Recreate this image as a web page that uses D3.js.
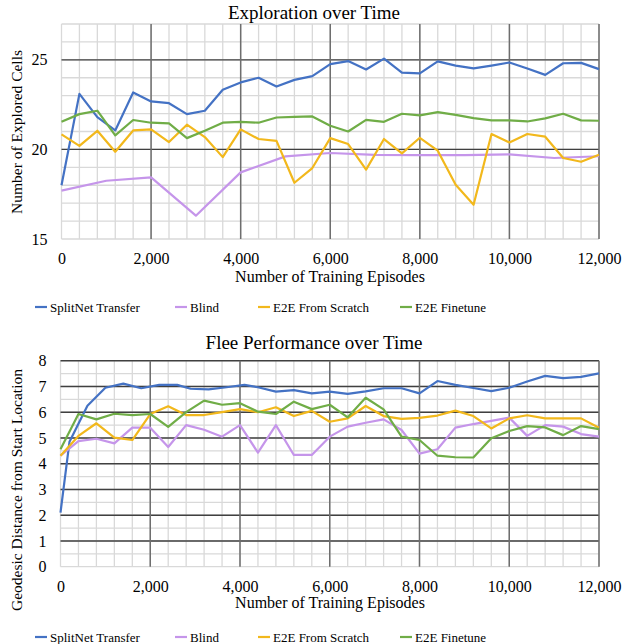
<!DOCTYPE html>
<html>
<head>
<meta charset="utf-8">
<script src="https://cdn.jsdelivr.net/npm/d3@7"></script>
<style>
  body { margin: 0; background: #fff; }
  svg text { font-family: "Liberation Serif", "Times New Roman", Tinos, "DejaVu Serif", serif !important; fill: #000; }
</style>
</head>
<body>
<svg id="chart" width="632" height="644"></svg>
<script>
// x values shared by most series (episodes)
const episodes = [0, 400, 800, 1200, 1600, 2000, 2400, 2800, 3200, 3600, 4000, 4400, 4800, 5200, 5600, 6000,
  6400, 6800, 7200, 7600, 8000, 8400, 8800, 9200, 9600, 10000, 10400, 10800, 11200, 11600, 12000]
const xTicks = [0, 2000, 4000, 6000, 8000, 10000, 12000]
const seriesNames = ['SplitNet Transfer', 'Blind', 'E2E From Scratch', 'E2E Finetune']
const colors = ['#4472C4', '#C595EA', '#F2B81C', '#70AD47']

// exploration chart
const splitExp = [18.0, 23.1, 21.8, 21.06, 23.18, 22.68, 22.58, 21.97, 22.16, 23.33, 23.74, 24.0, 23.51, 23.88, 24.09, 24.76,
  24.93, 24.46, 25.07, 24.29, 24.24, 24.91, 24.68, 24.52, 24.68, 24.85, 24.52, 24.16, 24.81, 24.83, 24.48]
const blindExpX = [0, 1000, 2000, 3000, 4000, 5000, 6000, 7000, 8000, 9000, 10000, 11000, 12000]
const blindExp = [17.70, 18.25, 18.44, 16.30, 18.72, 19.61, 19.80, 19.70, 19.68, 19.68, 19.72, 19.52, 19.62]
const scratchExp = [20.84, 20.2, 21.04, 19.87, 21.06, 21.12, 20.41, 21.38, 20.69, 19.57, 21.12, 20.58, 20.48, 18.14, 18.96, 20.63,
  20.3, 18.87, 20.58, 19.78, 20.65, 19.93, 18.03, 16.91, 20.86, 20.39, 20.86, 20.71, 19.52, 19.31, 19.7]
const finetuneExp = [21.54, 21.97, 22.16, 20.78, 21.64, 21.49, 21.45, 20.63, 21.04, 21.49, 21.54, 21.49, 21.78, 21.82, 21.84, 21.32,
  21.0, 21.65, 21.54, 21.99, 21.9, 22.08, 21.93, 21.75, 21.62, 21.62, 21.56, 21.73, 21.99, 21.62, 21.6]
const expYTicks = [15, 20, 25]

// flee chart
const splitFleeX = [0, 200, 600, 1000, 1400, 1800, 2200, 2600, 2900, 3300, 3700, 4100, 4400, 4800, 5200, 5600,
  6000, 6400, 6800, 7200, 7600, 8000, 8400, 8800, 9200, 9600, 10000, 10400, 10800, 11200, 11600, 12000]
const splitFlee = [2.10, 4.85, 6.25, 6.95, 7.11, 6.93, 7.06, 7.06, 6.91, 6.89, 6.97, 7.06, 6.97, 6.80, 6.86, 6.73,
  6.80, 6.71, 6.81, 6.93, 6.93, 6.73, 7.21, 7.06, 6.94, 6.82, 6.95, 7.19, 7.41, 7.32, 7.37, 7.51]
const blindFlee = [4.31, 4.88, 4.97, 4.79, 5.40, 5.40, 4.65, 5.50, 5.32, 5.05, 5.50, 4.43, 5.50, 4.34, 4.34, 5.05,
  5.44, 5.59, 5.72, 5.31, 4.39, 4.56, 5.40, 5.54, 5.66, 5.79, 5.08, 5.50, 5.44, 5.15, 5.05]
const scratchFlee = [4.31, 5.08, 5.57, 5.01, 4.92, 5.93, 6.23, 5.89, 5.89, 6.0, 6.12, 6.0, 6.19, 5.85, 6.05, 5.63,
  5.76, 6.24, 5.85, 5.74, 5.78, 5.87, 6.06, 5.85, 5.37, 5.76, 5.88, 5.76, 5.76, 5.76, 5.40]
const finetuneFlee = [4.56, 5.93, 5.72, 5.94, 5.89, 5.93, 5.43, 6.0, 6.45, 6.29, 6.35, 6.02, 5.93, 6.41, 6.12, 6.29,
  5.80, 6.56, 6.11, 5.05, 4.92, 4.31, 4.25, 4.24, 4.99, 5.27, 5.46, 5.41, 5.11, 5.46, 5.34]
const fleeYTicks = [0, 1, 2, 3, 4, 5, 6, 7, 8]

const zip = (xs, ys) => xs.map((x, i) => [x, ys[i]])
const serif = '"Liberation Serif", "Times New Roman", Tinos, "DejaVu Serif", serif'

const svg = d3.select('#chart')

function drawPanel(opt) {
  const g = svg.append('g').attr('font-family', serif)
  const x = d3.scaleLinear().domain([0, 12000]).range([opt.left, 599])
  const y = d3.scaleLinear().domain(opt.yDomain).range([opt.bottom, opt.top])

  // minor grid
  const minorX = d3.range(0, 12001, 400)
  const minorY = d3.range(opt.yDomain[0], opt.yDomain[1] + 0.001, opt.minorStep)
  g.append('g').selectAll('line').data(minorX).join('line')
    .attr('x1', d => x(d)).attr('x2', d => x(d))
    .attr('y1', opt.top).attr('y2', opt.bottom)
    .attr('stroke', '#d9d9d9').attr('stroke-width', 1.3)
  g.append('g').selectAll('line').data(minorY).join('line')
    .attr('x1', opt.left).attr('x2', 599)
    .attr('y1', d => y(d)).attr('y2', d => y(d))
    .attr('stroke', '#d9d9d9').attr('stroke-width', 1.3)

  // major grid
  g.append('g').selectAll('line').data(opt.majorY).join('line')
    .attr('x1', opt.left).attr('x2', 599)
    .attr('y1', d => y(d)).attr('y2', d => y(d))
    .attr('stroke', '#404040').attr('stroke-width', 1.4)
  g.append('g').selectAll('line').data(xTicks.slice(1)).join('line')
    .attr('x1', d => x(d)).attr('x2', d => x(d))
    .attr('y1', opt.top).attr('y2', opt.bottom)
    .attr('stroke', '#6e6e6e').attr('stroke-width', 1.5)

  // axes (labels only)
  const xAxis = d3.axisBottom(x).tickValues(xTicks).tickSize(0).tickPadding(14).tickFormat(d3.format(','))
  const yAxis = d3.axisLeft(y).tickValues(opt.yTicks).tickSize(0).tickPadding(14).tickFormat(d3.format('d'))
  const ax = g.append('g').attr('transform', `translate(0, ${opt.bottom})`).call(xAxis)
  const ay = g.append('g').attr('transform', `translate(${opt.left}, 0)`).call(yAxis)
  ax.select('.domain').remove()
  ay.select('.domain').remove()
  ax.attr('font-family', serif).attr('font-size', 16)
  ay.attr('font-family', serif).attr('font-size', 16)

  // lines
  const line = d3.line().x(d => x(d[0])).y(d => y(d[1]))
  opt.series.forEach((s, i) => {
    g.append('path')
      .datum(s)
      .attr('fill', 'none')
      .attr('stroke', colors[i])
      .attr('stroke-width', 2.2)
      .attr('stroke-linejoin', 'round')
      .attr('d', line)
  })

  // titles
  g.append('text').attr('x', 314).attr('y', opt.titleY)
    .attr('text-anchor', 'middle').attr('font-size', 19).text(opt.title)
  g.append('text').attr('x', 330).attr('y', opt.xTitleY)
    .attr('text-anchor', 'middle').attr('font-size', 16).text('Number of Training Episodes')
  g.append('text')
    .attr('transform', `translate(22, ${opt.yTitleMid}) rotate(-90)`)
    .attr('text-anchor', 'middle').attr('font-size', 15.5).text(opt.yTitle)

  // legend
  const legX = [35, 175, 258, 400]
  const leg = g.append('g').selectAll('g').data(seriesNames).join('g')
    .attr('transform', (d, i) => `translate(${legX[i]}, ${opt.legendY})`)
  leg.append('line').attr('x1', 0).attr('x2', 12).attr('y1', -5).attr('y2', -5)
    .attr('stroke', (d, i) => colors[i]).attr('stroke-width', 2.2)
  leg.append('text').attr('x', 15).attr('y', 0).attr('font-size', 13).text(d => d)
}

drawPanel({
  title: 'Exploration over Time',
  yTitle: 'Number of Explored Cells',
  left: 61.5, top: 24, bottom: 239,
  yDomain: [15, 27], minorStep: 1, majorY: [20, 25], yTicks: expYTicks,
  titleY: 19, xTitleY: 282, yTitleMid: 132, legendY: 312,
  series: [zip(episodes, splitExp), zip(blindExpX, blindExp), zip(episodes, scratchExp), zip(episodes, finetuneExp)]
})

drawPanel({
  title: 'Flee Performance over Time',
  yTitle: 'Geodesic Distance from Start Location',
  left: 60.5, top: 360.7, bottom: 566.7,
  yDomain: [0, 8], minorStep: 0.5, majorY: [1, 2, 3, 4, 5, 6, 7, 8], yTicks: fleeYTicks,
  titleY: 349, xTitleY: 608, yTitleMid: 490, legendY: 642,
  series: [zip(splitFleeX, splitFlee), zip(episodes, blindFlee), zip(episodes, scratchFlee), zip(episodes, finetuneFlee)]
})
</script>
</body>
</html>
